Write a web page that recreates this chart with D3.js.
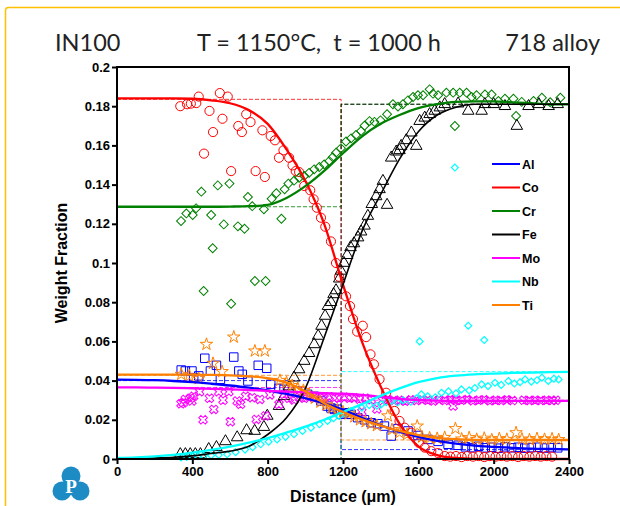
<!DOCTYPE html>
<html lang="en">
<head>
<meta charset="UTF-8">
<title>IN100 / 718 alloy diffusion couple</title>
<script src="https://d3js.org/d3.v7.min.js"></script>
<style>
  body { margin: 0; background: #fff; }
  svg text { font-family: "Liberation Sans", Arial, sans-serif; }
</style>
</head>
<body>
<svg width="620" height="506"></svg>
<script>
// Elements, colours, initial compositions
const elements = ['Al', 'Co', 'Cr', 'Fe', 'Mo', 'Nb', 'Ti'];
const colors = ['#0000ff', '#ff0000', '#008000', '#000000', '#ff00ff', '#00ffff', '#ff8000'];
const leftInit = [0.040, 0.1835, 0.1287, 0, 0.0365, 0, 0.0427];
const rightInit = [0.0048, 0, 0.181, 0.181, 0.030, 0.0446, 0.0097];
const interfacePos = 1190;

const xTicks = [0, 400, 800, 1200, 1600, 2000, 2400];
const yTicks = [0, 0.02, 0.04, 0.06, 0.08, 0.1, 0.12, 0.14, 0.16, 0.18, 0.2];

// Fitted profiles (every 100 um)
const curveDist = [0,100,200,300,400,500,600,700,800,900,1000,1100,1200,1300,1400,1500,1600,1700,1800,1900,2000,2100,2200,2300,2400];
const alCurve = [.0405,.0404,.0402,.0398,.0392,.0384,.0375,.0364,.035,.0332,.031,.0283,.0252,.021,.0172,.014,.0113,.0093,.0078,.0068,.0062,.0057,.0053,.0051,.0049];
const coCurve = [.184,.184,.184,.184,.1838,.183,.1815,.178,.171,.158,.142,.120,.089,.060,.037,.018,.0065,.002,.0005,.0001,0,0,0,0,0];
const crCurve = [.1287,.1287,.1287,.1287,.1287,.1287,.1288,.129,.1297,.1332,.1392,.147,.156,.1645,.171,.1755,.179,.181,.1822,.1825,.1825,.182,.1815,.181,.181];
const feCurve = [0,.0002,.0005,.0009,.0016,.0028,.004,.0065,.0125,.021,.036,.062,.089,.116,.135,.153,.167,.1755,.1795,.181,.181,.181,.181,.181,.181];
const moCurve = [.0365,.0365,.0364,.0363,.0361,.0358,.0355,.0352,.0348,.0344,.034,.0336,.0333,.0327,.0317,.0307,.0301,.0298,.0297,.0297,.0297,.0297,.0297,.0297,.0297];
const nbCurve = [.0005,.0008,.0013,.0021,.0032,.0046,.0063,.0083,.0107,.0135,.0165,.0200,.024,.028,.0322,.036,.0392,.0413,.0425,.0432,.0436,.0439,.0441,.0443,.0445];
const tiCurve = [.043,.043,.043,.043,.043,.0429,.0427,.0422,.0412,.039,.0345,.0285,.024,.0202,.017,.0143,.0122,.0108,.0101,.0098,.0097,.0097,.0097,.0097,.0097];

// Measured points [distance (um), weight fraction]
const alPts = [[341,.0454],[363,.0449],[398,.0449],[407,.0415],[434,.0424],[466,.0514],[496,.0449],[528,.0478],[549,.0407],[620,.052],[647,.0449],[665,.0432],[695,.0398],[750,.0478],[795,.0463],[816,.0381],[860,.036],[887,.0355],[958,.0347],[1012,.033],[1047,.032],[1083,.0296],[1118,.027],[1136,.026],[1154,.0253],[1170,.0254],[1189,.0228],[1207,.0236],[1234,.0228],[1243,.0228],[1278,.0211],[1314,.020],[1349,.0185],[1385,.018],[1420,.0168],[1456,.0117],[1492,.0155],[1545,.0143],[1598,.012],[1652,.010],[1705,.009],[1758,.0075],[1811,.007],[1850,.0062],[1885,.0058],[1920,.0065],[1955,.0057],[1990,.006],[2025,.0055],[2060,.0062],[2095,.0057],[2130,.006],[2165,.0055],[2200,.0058],[2235,.006],[2270,.0056],[2305,.0058],[2340,.0057]];
const coPts = [[336,.180],[372,.181],[392,.1813],[421,.1816],[434,.1849],[462,.1558],[491,.1776],[510,.1668],[546,.1867],[560,.1736],[588,.1849],[606,.1469],[644,.1699],[663,.1668],[686,.1759],[709,.1719],[736,.1469],[772,.1677],[785,.1439],[816,.1648],[839,.1626],[860,.1537],[884,.1575],[914,.1537],[932,.1498],[949,.1469],[967,.1464],[994,.1393],[1026,.1371],[1044,.1325],[1061,.1282],[1083,.1231],[1106,.1185],[1136,.111],[1163,.100],[1179,.093],[1216,.083],[1237,.078],[1253,.0714],[1275,.065],[1305,.068],[1323,.0622],[1346,.0534],[1364,.0483],[1394,.0407],[1429,.0338],[1474,.0245],[1500,.0194],[1527,.016],[1563,.0134],[1602,.0083],[1634,.0058],[1669,.004],[1705,.003],[1740,.0015],[1770,.0012],[1800,.0015],[1830,.001],[1860,.0015],[1890,.0012],[1920,.0015],[1950,.001],[1980,.0015],[2010,.0012],[2040,.0015],[2070,.0012],[2100,.0015],[2130,.001],[2160,.0015],[2190,.0012],[2220,.0015],[2250,.0012],[2280,.0015],[2310,.0012]];
const crPts = [[340,.1214],[368,.1253],[402,.1245],[420,.1279],[448,.1364],[460,.0857],[500,.1245],[508,.1075],[535,.1396],[567,.1197],[597,.1405],[606,.0792],[642,.1187],[677,.1175],[695,.1337],[718,.129],[732,.0908],[780,.1274],[789,.0908],[821,.1328],[846,.1356],[873,.1226],[890,.1376],[910,.1405],[940,.142],[967,.1435],[994,.1444],[1020,.146],[1047,.1478],[1074,.149],[1100,.1503],[1127,.152],[1145,.154],[1163,.1563],[1189,.1585],[1216,.162],[1243,.1636],[1269,.1653],[1296,.1673],[1314,.170],[1341,.1724],[1367,.172],[1399,.1728],[1434,.1759],[1465,.181],[1492,.1798],[1518,.181],[1545,.183],[1572,.1847],[1598,.1856],[1625,.1856],[1660,.1886],[1678,.1864],[1705,.1856],[1749,.1869],[1785,.1869],[1794,.1699],[1820,.1869],[1856,.1869],[1883,.1847],[1909,.1856],[1954,.186],[1989,.186],[2025,.1827],[2060,.1838],[2105,.1838],[2119,.175],[2149,.1822],[2212,.1827],[2256,.1843],[2300,.182],[2354,.1843]];
const fePts = [[336,.0024],[363,.0024],[389,.0024],[416,.0024],[443,.0024],[487,.005],[528,.006],[576,.009],[638,.011],[688,.0146],[731,.0143],[780,.0163],[798,.022],[860,.027],[887,.032],[914,.037],[940,.0415],[967,.0457],[994,.05],[1020,.054],[1047,.0585],[1068,.0628],[1086,.0679],[1105,.073],[1120,.078],[1136,.080],[1150,.084],[1163,.086],[1180,.092],[1189,.096],[1205,.100],[1222,.104],[1240,.108],[1258,.110],[1280,.113],[1296,.116],[1314,.119],[1332,.124],[1353,.13],[1376,.134],[1394,.1376],[1412,.1418],[1434,.1296],[1456,.1537],[1483,.1568],[1500,.1575],[1509,.1597],[1536,.1626],[1563,.1665],[1589,.1597],[1607,.1724],[1634,.1741],[1660,.1759],[1687,.1776],[1714,.1793],[1740,.181],[1811,.1813],[1865,.1776],[1936,.1776],[1953,.181],[2000,.181],[2060,.180],[2123,.1699],[2185,.180],[2240,.181],[2292,.180],[2340,.181]];
const moPts = [[340,.0282],[352,.0287],[363,.0304],[389,.031],[398,.0296],[407,.032],[439,.0343],[457,.020],[491,.031],[514,.0253],[540,.0343],[563,.030],[594,.0343],[602,.019],[638,.0296],[656,.0279],[683,.032],[718,.0313],[740,.0202],[759,.0304],[789,.022],[812,.0327],[860,.0279],[887,.033],[914,.031],[940,.0301],[967,.0315],[994,.031],[1020,.032],[1047,.031],[1074,.0315],[1100,.031],[1127,.0318],[1154,.0312],[1180,.031],[1207,.0315],[1234,.031],[1260,.0312],[1287,.0305],[1300,.024],[1320,.031],[1350,.0302],[1380,.0255],[1410,.0298],[1440,.0302],[1470,.0298],[1500,.030],[1530,.0295],[1560,.0302],[1590,.0298],[1620,.0302],[1650,.030],[1680,.0296],[1710,.0302],[1740,.0298],[1770,.0303],[1785,.027],[1800,.0298],[1830,.030],[1860,.0303],[1890,.0297],[1920,.030],[1950,.0302],[1980,.0297],[2010,.030],[2040,.0298],[2070,.0302],[2100,.0298],[2160,.030],[2190,.0298],[2220,.030],[2250,.0298],[2280,.030],[2310,.0298],[2330,.030]];
const nbPts = [[340,.0008],[370,.001],[400,.0012],[430,.0014],[460,.0016],[500,.0018],[540,.0021],[585,.0024],[630,.0035],[680,.0048],[720,.006],[763,.0075],[805,.0088],[850,.010],[895,.0113],[940,.0126],[985,.0143],[1030,.016],[1075,.0177],[1118,.0194],[1150,.0208],[1180,.022],[1210,.0232],[1243,.0245],[1300,.0262],[1340,.0275],[1380,.0272],[1403,.0279],[1430,.029],[1456,.0296],[1490,.0288],[1520,.030],[1560,.0292],[1590,.031],[1616,.033],[1650,.032],[1690,.0315],[1723,.0338],[1760,.0345],[1800,.0335],[1829,.0355],[1870,.035],[1900,.0362],[1936,.0381],[1970,.0372],[2007,.0389],[2040,.0378],[2078,.0398],[2110,.0385],[2140,.0392],[2167,.0406],[2200,.0395],[2230,.0402],[2256,.0415],[2290,.0398],[2320,.041],[2345,.0406],[1607,.060],[1865,.068],[1950,.0607],[1794,.1487]];
const tiPts = [[341,.0432],[384,.0424],[434,.041],[475,.0585],[510,.0488],[558,.0446],[620,.0622],[732,.0551],[785,.0551],[865,.0401],[900,.039],[930,.0375],[960,.036],[990,.035],[1020,.033],[1050,.031],[1080,.029],[1110,.0275],[1140,.026],[1170,.025],[1200,.024],[1230,.023],[1260,.0215],[1290,.020],[1320,.019],[1350,.018],[1380,.017],[1438,.022],[1460,.015],[1500,.0135],[1540,.0125],[1594,.0168],[1620,.0112],[1660,.0108],[1700,.0105],[1740,.011],[1797,.0155],[1830,.0102],[1870,.0109],[1910,.010],[1950,.0106],[1990,.0098],[2030,.0104],[2070,.010],[2119,.0134],[2150,.0102],[2190,.0098],[2230,.0104],[2270,.010],[2310,.0103],[2345,.0099]];

const pts = [alPts, coPts, crPts, fePts, moPts, nbPts, tiPts];
const curves = [alCurve, coCurve, crCurve, feCurve, moCurve, nbCurve, tiCurve];

const svg = d3.select('svg');

// outer yellow frame
svg.append('rect')
  .attr('x', 5.5).attr('y', 7.5).attr('width', 700).attr('height', 600).attr('rx', 3)
  .attr('fill', 'none').attr('stroke', '#ffc000').attr('stroke-width', 1.5);

// headings
const head = svg.append('g').attr('fill', '#222');
head.selectAll('text')
  .data([['IN100', 55, 'start'], ['T = 1150°C,  t = 1000 h', 319, 'middle'], ['718 alloy', 600, 'end']])
  .join('text')
  .attr('x', d => d[1]).attr('y', 51)
  .attr('text-anchor', d => d[2])
  .style('font-family', 'Lato, sans-serif').style('font-size', '23.5px')
  .style('white-space', 'pre')
  .text(d => d[0]);

const x = d3.scaleLinear().domain([0, 2400]).range([117, 569]);
const y = d3.scaleLinear().domain([0, 0.2]).range([459, 67]);

// dashed initial step profiles
const stepLine = d3.line().x(d => x(d[0])).y(d => y(d[1]));
elements.forEach((el, i) => {
  svg.append('path')
    .attr('d', stepLine([[0, leftInit[i]], [interfacePos, leftInit[i]], [interfacePos, rightInit[i]], [2400, rightInit[i]]]))
    .attr('fill', 'none').attr('stroke', colors[i]).attr('stroke-width', 1)
    .attr('stroke-dasharray', '4,2').attr('opacity', 0.8);
});

// markers
const markerSym = [
  { type: d3.symbolSquare, size: 72, rot: 0 },
  { type: d3.symbolCircle, size: 66, rot: 0 },
  { type: d3.symbolSquare, size: 40, rot: 45 },
  { type: d3.symbolTriangle, size: 58, rot: 0 },
  { type: d3.symbolCross, size: 46, rot: 45 },
  { type: d3.symbolSquare, size: 24, rot: 45 },
  { type: d3.symbolStar, size: 48, rot: 0 }
];
elements.forEach((el, i) => {
  const s = markerSym[i];
  svg.append('g').selectAll('path')
    .data(pts[i])
    .join('path')
    .attr('d', d3.symbol().type(s.type).size(s.size))
    .attr('transform', d => `translate(${x(d[0])},${y(d[1])}) rotate(${s.rot})`)
    .attr('fill', 'none')
    .attr('stroke', colors[i])
    .attr('stroke-width', el === 'Nb' ? 1.2 : 1);
});

// fitted curves
const curveLine = d3.line().x((d, j) => x(curveDist[j])).y(d => y(d)).curve(d3.curveMonotoneX);
elements.forEach((el, i) => {
  svg.append('path')
    .attr('d', curveLine(curves[i]))
    .attr('fill', 'none').attr('stroke', colors[i])
    .attr('stroke-width', el === 'Fe' ? 1.6 : 2.3);
});

// frame and axes
svg.append('rect')
  .attr('x', x(0)).attr('y', y(0.2)).attr('width', x(2400) - x(0)).attr('height', y(0) - y(0.2))
  .attr('fill', 'none').attr('stroke', '#000').attr('stroke-width', 2);

const yAxis = svg.append('g')
  .attr('transform', `translate(${x(0)},0)`)
  .call(d3.axisLeft(y).tickValues(yTicks).tickSize(5).tickPadding(2)
    .tickFormat(d => d3.format('.2~f')(d)));
const xAxis = svg.append('g')
  .attr('transform', `translate(0,${y(0)})`)
  .call(d3.axisBottom(x).tickValues(xTicks).tickSize(5).tickPadding(3)
    .tickFormat(d3.format('d')));
[xAxis, yAxis].forEach(a => {
  a.select('.domain').remove();
  a.selectAll('line').attr('stroke-width', 2);
  a.selectAll('text').style('font-family', '"Liberation Sans", Arial, sans-serif')
    .style('font-size', '13px').style('font-weight', 'bold').attr('fill', '#000');
});

svg.append('text')
  .attr('transform', `translate(67,${(y(0) + y(0.2)) / 2}) rotate(-90)`)
  .attr('text-anchor', 'middle')
  .style('font-size', '16px').style('font-weight', 'bold')
  .text('Weight Fraction');
svg.append('text')
  .attr('x', (x(0) + x(2400)) / 2).attr('y', 502)
  .attr('text-anchor', 'middle')
  .style('font-size', '16px').style('font-weight', 'bold')
  .text('Distance (μm)');

// legend
const legend = svg.append('g');
elements.forEach((el, i) => {
  const ly = 164 + i * 23.5;
  legend.append('line').attr('x1', 492).attr('x2', 520).attr('y1', ly).attr('y2', ly)
    .attr('stroke', colors[i]).attr('stroke-width', 2);
  legend.append('text').attr('x', 522).attr('y', ly + 4.5)
    .style('font-size', '12.5px').style('font-weight', 'bold').text(el);
});

// logo
const logo = svg.append('g').attr('fill', '#1e8cc4');
logo.append('circle').attr('cx', 71).attr('cy', 476).attr('r', 9.5);
logo.append('circle').attr('cx', 62).attr('cy', 491).attr('r', 9.5);
logo.append('circle').attr('cx', 80).attr('cy', 491).attr('r', 9.5);
logo.append('circle').attr('cx', 71).attr('cy', 486).attr('r', 9);
logo.append('text').attr('x', 71).attr('y', 493).attr('text-anchor', 'middle')
  .attr('fill', '#fff').style('font-family', '"Liberation Serif", serif')
  .style('font-size', '19px').style('font-weight', 'bold').text('P');
</script>
</body>
</html>
